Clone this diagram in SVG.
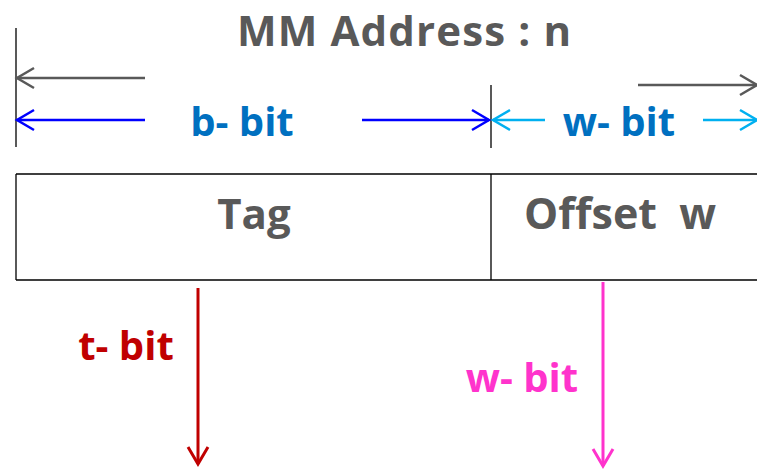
<svg xmlns="http://www.w3.org/2000/svg" width="757" height="469" viewBox="0 0 757 469">
<style>
text{font-family:"Open Sans","Noto Sans","Liberation Sans",sans-serif;font-weight:bold}
.g{fill:#595959}
.ln{fill:none;stroke-width:2.5}
marker{overflow:visible}
</style>
<defs>
<marker id="ag" viewBox="0 0 18 22" refX="17" refY="11" markerWidth="18" markerHeight="22" markerUnits="userSpaceOnUse" orient="auto"><path d="M0,1 L17,11 L0,21" fill="none" stroke="#595959" stroke-width="2.5"/></marker>
<marker id="ab" viewBox="0 0 18 22" refX="17" refY="11" markerWidth="18" markerHeight="22" markerUnits="userSpaceOnUse" orient="auto"><path d="M0,1 L17,11 L0,21" fill="none" stroke="#0000FF" stroke-width="2.5"/></marker>
<marker id="ac" viewBox="0 0 18 22" refX="17" refY="11" markerWidth="18" markerHeight="22" markerUnits="userSpaceOnUse" orient="auto"><path d="M0,1 L17,11 L0,21" fill="none" stroke="#00B0F0" stroke-width="2.5"/></marker>
<marker id="ar" viewBox="0 0 18 22" refX="17" refY="11" markerWidth="18" markerHeight="22" markerUnits="userSpaceOnUse" orient="auto"><path d="M0,1 L17,11 L0,21" fill="none" stroke="#C00000" stroke-width="3"/></marker>
<marker id="am" viewBox="0 0 18 22" refX="17" refY="11" markerWidth="18" markerHeight="22" markerUnits="userSpaceOnUse" orient="auto"><path d="M0,1 L17,11 L0,21" fill="none" stroke="#FF33CC" stroke-width="3"/></marker>
</defs>
<rect width="757" height="469" fill="#fff"/>
<g id="title"><text class="g" x="404" y="46" font-size="42" text-anchor="middle" textLength="334" lengthAdjust="spacing">MM Address : n</text></g>
<g id="address">
<path d="M16,174 H757 M16,280 H757 M16,174 V280 M491,174 V280" fill="none" stroke="#000" stroke-width="1.3"/>
<text class="g" x="254" y="229" font-size="42" text-anchor="middle">Tag</text>
<text class="g" x="524" y="229" font-size="43" xml:space="preserve">Offset  w</text>
</g>
<g id="labels">
<text x="242" y="136" font-size="40" fill="#0070C0" text-anchor="middle">b- bit</text>
<text x="619" y="136" font-size="40" fill="#0070C0" text-anchor="middle">w- bit</text>
<text x="126" y="360" font-size="40" fill="#C00000" text-anchor="middle">t- bit</text>
<text x="522" y="392" font-size="40" fill="#FF33CC" text-anchor="middle">w- bit</text>
</g>
<g id="connectors">
<path d="M16,28 V147 M491,85 V148" stroke="#595959" stroke-width="2" fill="none"/>
<path class="ln" d="M145,78 H17" stroke="#595959" marker-end="url(#ag)"/>
<path class="ln" d="M638,85 H757" stroke="#595959" marker-end="url(#ag)"/>
<path class="ln" d="M145,120 H17" stroke="#0000FF" marker-end="url(#ab)"/>
<path class="ln" d="M362,120 H489" stroke="#0000FF" marker-end="url(#ab)"/>
<path class="ln" d="M545,120 H493" stroke="#00B0F0" marker-end="url(#ac)"/>
<path class="ln" d="M703,120 H757" stroke="#00B0F0" marker-end="url(#ac)"/>
<path d="M198,288 V464" stroke="#C00000" stroke-width="3" fill="none" marker-end="url(#ar)"/>
<path d="M603,282 V466" stroke="#FF33CC" stroke-width="3" fill="none" marker-end="url(#am)"/>
</g>
</svg>
